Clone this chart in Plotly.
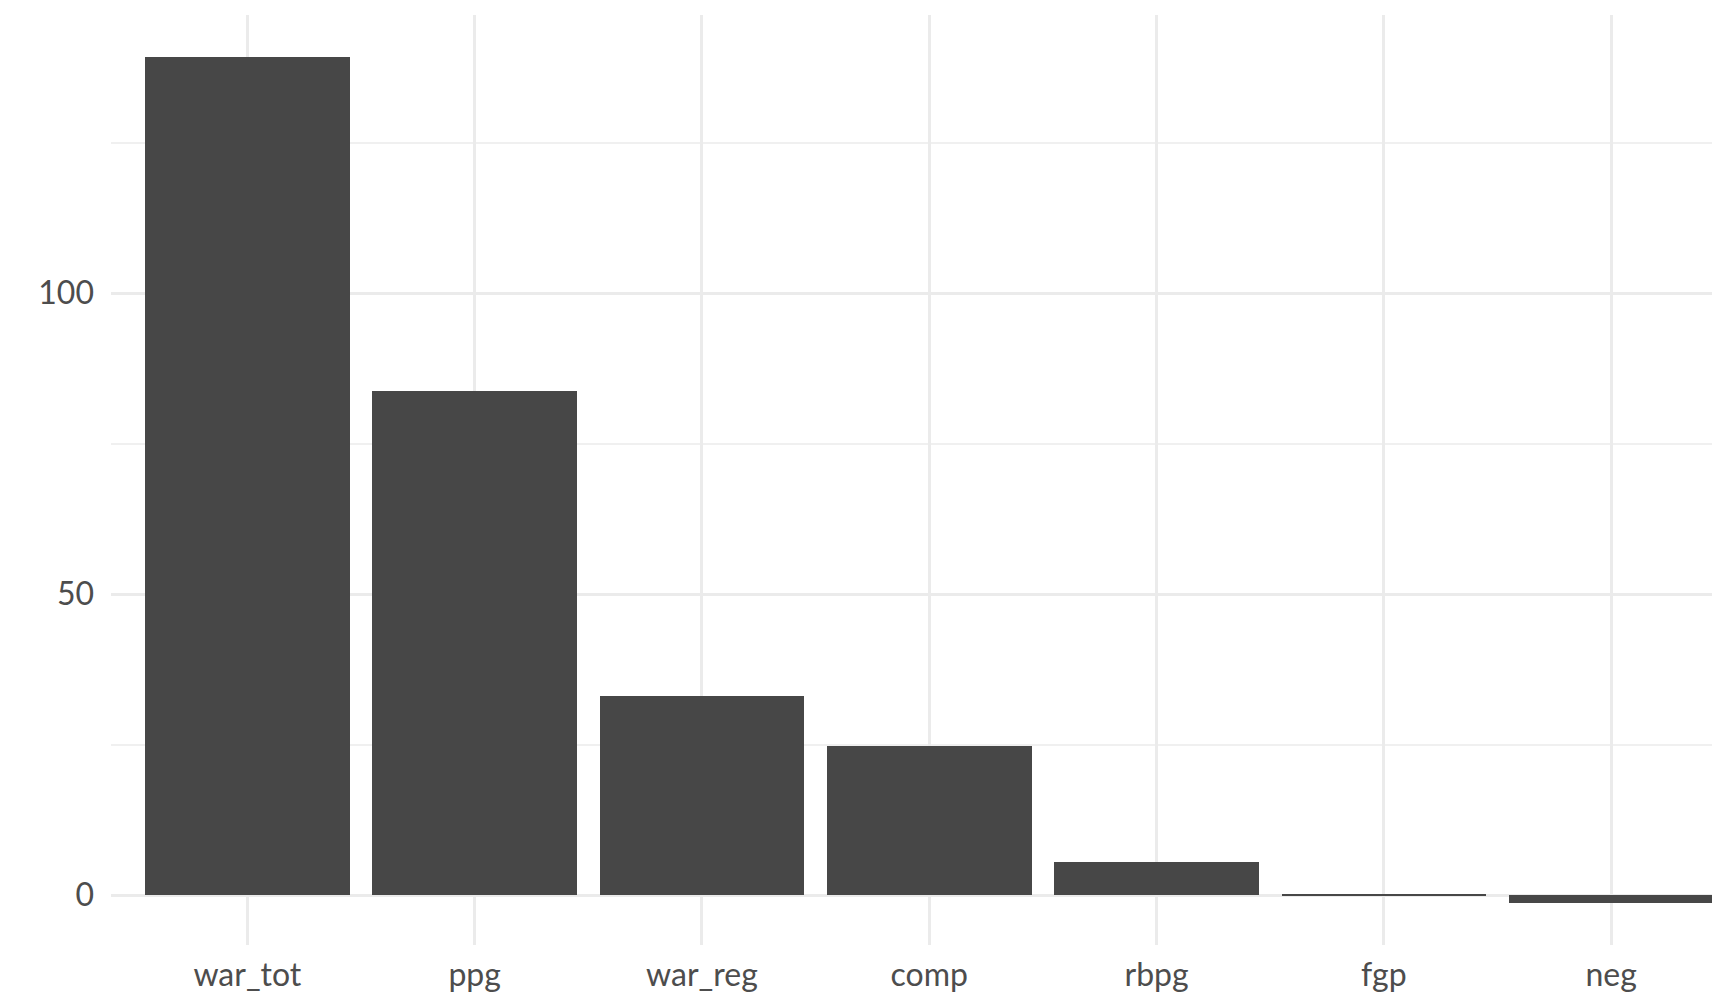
import plotly.graph_objects as go

categories = ["war_tot", "ppg", "war_reg", "comp", "rbpg", "fgp", "neg"]
values = [139.2, 83.8, 33.1, 24.8, 5.5, 0.15, -1.3]
y_ticks = [0, 50, 100]
y_tick_labels = ["0", "50", "100"]

fig = go.Figure(
    go.Bar(
        x=list(range(len(categories))),
        y=values,
        width=0.9,
        marker=dict(color="#474747", line=dict(width=0)),
    )
)

font_family = "Lato, Open Sans, sans-serif"
fig.update_layout(
    width=1720,
    height=1005,
    margin=dict(l=103, r=0, t=7, b=68),
    paper_bgcolor="white",
    plot_bgcolor="white",
    showlegend=False,
    font=dict(family=font_family, size=32, color="#4d4d4d"),
    bargap=0,
)
fig.update_xaxes(
    range=[-0.6, 6.514],
    tickmode="array",
    tickvals=list(range(len(categories))),
    ticktext=categories,
    showgrid=True,
    gridcolor="#ebebeb",
    gridwidth=2.5,
    zeroline=False,
    showline=False,
    ticks="",
    ticklabelstandoff=8,
)
fig.update_yaxes(
    range=[-8.3, 146.2],
    tickmode="array",
    tickvals=y_ticks,
    ticktext=y_tick_labels,
    showgrid=True,
    gridcolor="#ebebeb",
    gridwidth=2.5,
    minor=dict(tickvals=[25, 75, 125], showgrid=True, gridcolor="#f0f0f0", gridwidth=2),
    zeroline=False,
    showline=False,
    ticks="",
    ticklabelstandoff=16,
)

fig.write_html("out.html")
